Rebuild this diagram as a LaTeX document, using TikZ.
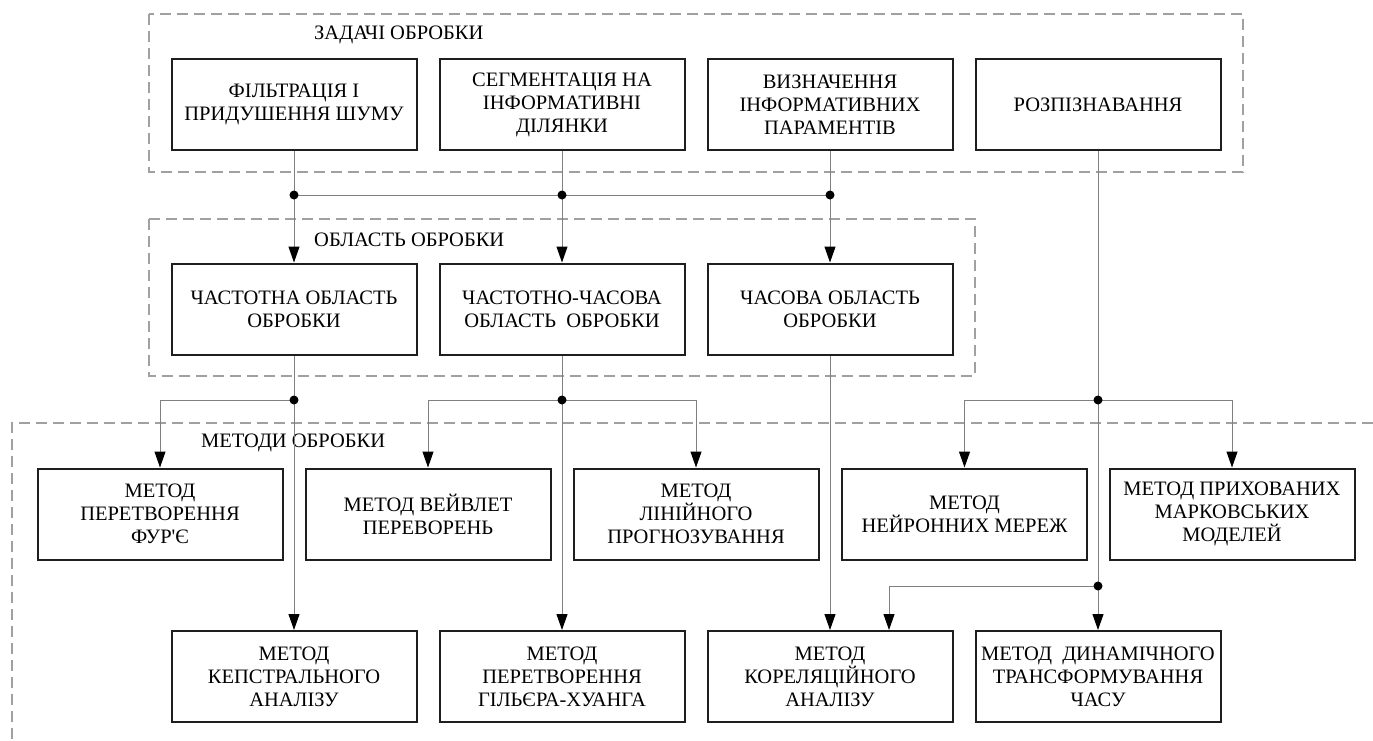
\documentclass[tikz,border=0pt]{standalone}
\usepackage{fontspec}
\setmainfont{Liberation Serif}[Ligatures=TeXOff]
\usetikzlibrary{arrows.meta}
\definecolor{dashgray}{HTML}{A0A0A0}
\definecolor{linegray}{HTML}{808080}
\definecolor{boxline}{HTML}{1E1E1E}
\tikzset{
  box/.style={draw=boxline, line width=2pt, fill=white, minimum width=245pt, minimum height=91pt,
    align=center, inner sep=2pt, font=\fontsize{20.5}{23}\selectfont},
  grp/.style={draw=dashgray, line width=1.5pt, dash pattern=on 11pt off 6pt},
  grplabel/.style={anchor=west, inner sep=0pt, font=\fontsize{20.5}{23}\selectfont},
  conn/.style={draw=linegray, line width=1pt},
  arr/.style={conn, -{Triangle[length=16pt,width=11pt,fill=black,color=black]}},
  jdot/.style={circle, fill=black, inner sep=0pt, minimum size=9pt}
}
\begin{document}
\begin{tikzpicture}[x=1pt,y=-1pt]
\useasboundingbox (0,0) rectangle (1373,740);
% group frames
\draw[grp] (149,14) rectangle (1243,172);
\draw[grp] (149,219) rectangle (975,376);
\draw[grp] (1373,423) -- (12,423) -- (12,740);
\node[grplabel] (lz) at (314,35) {ЗАДАЧІ ОБРОБКИ};
\node[grplabel] (lo) at (314,240) {ОБЛАСТЬ ОБРОБКИ};
\node[grplabel] (lm) at (201,443) {МЕТОДИ ОБРОБКИ};
% row 1
\node[box] (b11) at (294,104.5) {ФІЛЬТРАЦІЯ І\\ПРИДУШЕННЯ ШУМУ};
\node[box] (b12) at (562,104.5) {СЕГМЕНТАЦІЯ НА\\ІНФОРМАТИВНІ\\ДІЛЯНКИ};
\node[box] (b13) at (830,104.5) {ВИЗНАЧЕННЯ\\ІНФОРМАТИВНИХ\\ПАРАМЕНТІВ};
\node[box] (b14) at (1098,104.5) {РОЗПІЗНАВАННЯ};
% row 2
\node[box] (b21) at (294,309) {ЧАСТОТНА ОБЛАСТЬ\\ОБРОБКИ};
\node[box] (b22) at (562,309) {ЧАСТОТНО-ЧАСОВА\\ОБЛАСТЬ\ \ ОБРОБКИ};
\node[box] (b23) at (830,309) {ЧАСОВА ОБЛАСТЬ\\ОБРОБКИ};
% row 3
\node[box] (b31) at (160,514) {МЕТОД\\ПЕРЕТВОРЕННЯ\\ФУР'Є};
\node[box] (b32) at (428,514) {МЕТОД ВЕЙВЛЕТ\\ПЕРЕВОРЕНЬ};
\node[box] (b33) at (696,514) {МЕТОД\\ЛІНІЙНОГО\\ПРОГНОЗУВАННЯ};
\node[box] (b34) at (964.5,514) {МЕТОД\\НЕЙРОННИХ МЕРЕЖ};
\node[box] (b35) at (1232,514) {МЕТОД ПРИХОВАНИХ\\МАРКОВСЬКИХ\\МОДЕЛЕЙ};
% row 4
\node[box] (b41) at (294,676.5) {МЕТОД\\КЕПСТРАЛЬНОГО\\АНАЛІЗУ};
\node[box] (b42) at (562,676.5) {МЕТОД\\ПЕРЕТВОРЕННЯ\\ГІЛЬЄРА-ХУАНГА};
\node[box] (b43) at (830,676.5) {МЕТОД\\КОРЕЛЯЦІЙНОГО\\АНАЛІЗУ};
\node[box] (b44) at (1098,676.5) {МЕТОД\ \ ДИНАМІЧНОГО\\ТРАНСФОРМУВАННЯ\\ЧАСУ};
% junctions
\coordinate (j1) at (294,195);
\coordinate (j2) at (562,195);
\coordinate (j3) at (830,195);
\coordinate (j4) at (294,400);
\coordinate (j5) at (562,400);
\coordinate (j6) at (1098,400);
\coordinate (j7) at (1098,586);
% connectors
\draw[conn] (b11) -- (j1);
\draw[conn] (b12) -- (j2);
\draw[conn] (b13) -- (j3);
\draw[conn] (j1) -- (j3);
\draw[arr] (j1) -- (b21);
\draw[arr] (j2) -- (b22);
\draw[arr] (j3) -- (b23);
\draw[conn] (b21) -- (j4);
\draw[conn] (b22) -- (j5);
\draw[arr] (j4) -- (b41);
\draw[arr] (j4) -| (b31);
\draw[arr] (j5) -- (b42);
\draw[arr] (j5) -| (b32);
\draw[arr] (j5) -| (b33);
\draw[arr] (b23) -- (b43);
\draw[conn] (b14) -- (j6);
\draw[conn] (j6) -- (j7);
\draw[arr] (j6) -| (b34);
\draw[arr] (j6) -| (b35);
\draw[arr] (j7) -- (b44);
\draw[arr] (j7) -| ([xshift=59pt]b43.north);
\foreach \j in {j1,j2,j3,j4,j5,j6,j7} \node[jdot] at (\j) {};
\end{tikzpicture}
\end{document}
